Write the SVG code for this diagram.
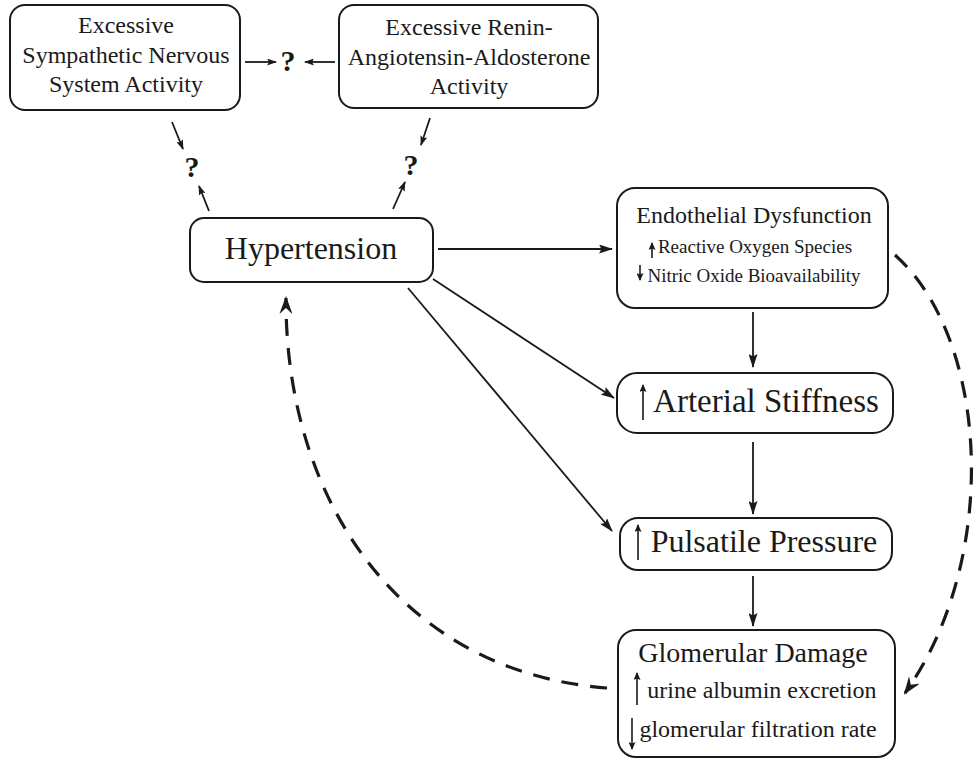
<svg xmlns="http://www.w3.org/2000/svg" width="979" height="761" viewBox="0 0 979 761">
<style>
.box{fill:#fff;stroke:#1a1a1a;stroke-width:2}
.t{font-family:"Liberation Serif","Times New Roman",serif;fill:#1a1a1a;text-anchor:middle}
.q{font-family:"Liberation Serif","Times New Roman",serif;font-weight:bold;fill:#1a1a1a;text-anchor:middle;font-size:30px}
.c{fill:none;stroke:#1a1a1a;stroke-width:1.8}
.d{fill:none;stroke:#1a1a1a;stroke-width:3.2;stroke-dasharray:17 12}
.ia{fill:none;stroke:#1a1a1a;stroke-width:1.6}
</style>
<defs>
<marker id="arr" viewBox="0 0 14 9" refX="13" refY="4.5" markerWidth="14" markerHeight="9" markerUnits="userSpaceOnUse" orient="auto">
<path d="M0,0 L14,4.5 L0,9 L2.5,4.5 z" fill="#1a1a1a"/>
</marker>
<marker id="sarr" viewBox="0 0 10 7" refX="9" refY="3.5" markerWidth="10" markerHeight="7" markerUnits="userSpaceOnUse" orient="auto">
<path d="M0,0 L10,3.5 L0,7 L2,3.5 z" fill="#1a1a1a"/>
</marker>
<marker id="darr" viewBox="0 0 18 13" refX="16" refY="6.5" markerWidth="18" markerHeight="13" markerUnits="userSpaceOnUse" orient="auto">
<path d="M0,0 L18,6.5 L0,13 L6,6.5 z" fill="#1a1a1a"/>
</marker>
<marker id="tiny" viewBox="0 0 8 7" refX="7" refY="3.5" markerWidth="8" markerHeight="7" markerUnits="userSpaceOnUse" orient="auto">
<path d="M0,0 L8,3.5 L0,7 L1.5,3.5 z" fill="#1a1a1a"/>
</marker>
</defs>
<rect width="979" height="761" fill="#fff"/>

<g id="connectors">
<path class="c" d="M438,249 L612,249" marker-end="url(#arr)"/>
<path class="c" d="M433,279 L614,398" marker-end="url(#arr)"/>
<path class="c" d="M408,288 L612,531" marker-end="url(#arr)"/>
<path class="c" d="M753,312 L753,367" marker-end="url(#arr)"/>
<path class="c" d="M753,442 L753,514" marker-end="url(#arr)"/>
<path class="c" d="M753,576 L753,626" marker-end="url(#arr)"/>
<path class="c" d="M245,62 L276,62" marker-end="url(#sarr)"/>
<path class="c" d="M335,62 L305,62" marker-end="url(#sarr)"/>
<path class="c" d="M172,122 L183,149" marker-end="url(#sarr)"/>
<path class="c" d="M209,211 L199,186" marker-end="url(#sarr)"/>
<path class="c" d="M430,118 L421,145" marker-end="url(#sarr)"/>
<path class="c" d="M393,209 L405,182" marker-end="url(#sarr)"/>
<path class="d" d="M607,688 C400,672 285,500 286,298" marker-end="url(#darr)"/>
<path class="d" d="M895,255 C990,340 1000,560 905,693" marker-end="url(#darr)"/>
</g>

<g id="q-top"><text class="q" x="288" y="71">?</text></g>
<g id="q-left"><text class="q" x="192" y="177">?</text></g>
<g id="q-right"><text class="q" x="411" y="175">?</text></g>

<g id="sympathetic">
<rect class="box" x="10" y="5" width="230" height="105" rx="15"/>
<text class="t" x="126" y="33" font-size="24">Excessive</text>
<text class="t" x="126" y="63" font-size="24">Sympathetic Nervous</text>
<text class="t" x="126" y="92" font-size="24">System Activity</text>
</g>

<g id="raas">
<rect class="box" x="339" y="5" width="259" height="103" rx="15"/>
<text class="t" x="469" y="35" font-size="24">Excessive Renin-</text>
<text class="t" x="469" y="65" font-size="24">Angiotensin-Aldosterone</text>
<text class="t" x="469" y="94" font-size="24">Activity</text>
</g>

<g id="hypertension">
<rect class="box" x="190" y="218" width="243" height="64" rx="14"/>
<text class="t" x="311" y="259" font-size="32">Hypertension</text>
</g>

<g id="endothelial">
<rect class="box" x="617" y="188" width="271" height="120" rx="18"/>
<text class="t" x="754" y="223" font-size="24">Endothelial Dysfunction</text>
<text class="t" x="755" y="253" font-size="19">Reactive Oxygen Species</text>
<text class="t" x="754" y="282" font-size="19">Nitric Oxide Bioavailability</text>
<path class="ia" d="M652,258 L652,243" marker-end="url(#tiny)"/>
<path class="ia" d="M640,265 L640,280" marker-end="url(#tiny)"/>
</g>

<g id="arterial">
<rect class="box" x="617" y="373" width="276" height="60" rx="20"/>
<text class="t" x="766" y="412" font-size="33">Arterial Stiffness</text>
<path class="ia" d="M643,420 L643,385" marker-end="url(#tiny)"/>
</g>

<g id="pulsatile">
<rect class="box" x="620" y="518" width="272" height="52" rx="18"/>
<text class="t" x="764" y="552" font-size="32">Pulsatile Pressure</text>
<path class="ia" d="M638,560 L638,525" marker-end="url(#tiny)"/>
</g>

<g id="glomerular">
<rect class="box" x="618" y="630" width="277" height="127" rx="18"/>
<text class="t" x="753" y="662" font-size="28">Glomerular Damage</text>
<text class="t" x="762" y="698" font-size="24">urine albumin excretion</text>
<text class="t" x="758" y="737" font-size="24">glomerular filtration rate</text>
<path class="ia" d="M637,705 L637,673" marker-end="url(#tiny)"/>
<path class="ia" d="M632,718 L632,749" marker-end="url(#tiny)"/>
</g>
</svg>
